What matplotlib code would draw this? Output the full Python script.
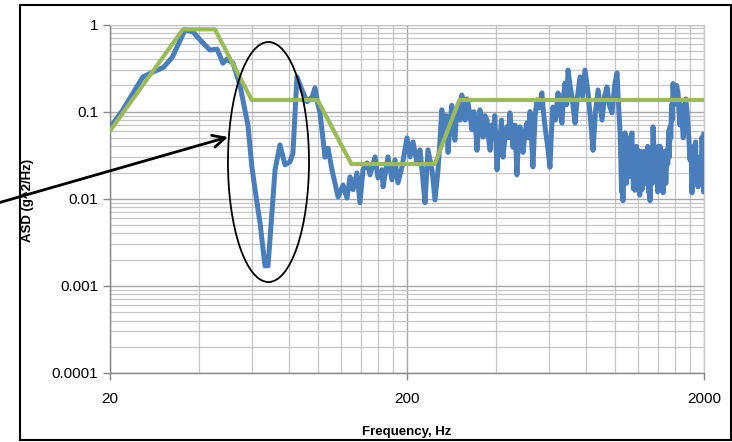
import matplotlib
matplotlib.use("Agg")
import matplotlib.pyplot as plt
from matplotlib.patches import Ellipse, Rectangle
from matplotlib.ticker import FixedLocator, NullFormatter

# Measured response (blue) - rows of 10 values each, frequencies and ASD matched row by row
meas_freq = [
    20, 22.1, 25.8, 27.9, 30.2, 32.4, 35.8, 38.1, 40.8, 43.4,
    45.9, 48.0, 49.5, 51.9, 54.8, 58.3, 60.1, 62.5, 64.0, 66.5,
    68.1, 70.2, 71.9, 74.7, 77.7, 80.7, 82.6, 85.2, 88.6, 92.1,
    95.8, 98.0, 100.3, 101.9, 105.9, 108.4, 111.8, 117.2, 121.8, 125.6,
    128.6, 131.6, 135.7, 138.9, 142.2, 146.7, 150.2, 156.1, 159.7, 164.8,
    166.1, 172.6, 178.0, 182.2, 186.5, 192.4, 200, 204.7, 209.5, 216.1,
    221.2, 224.7, 230, 235.3, 242.8, 248.5, 254.4, 258, 262, 265,
    268, 271, 275, 279, 283, 287, 290, 294, 298, 302,
    306, 310, 314, 318, 321, 326, 331, 336, 340, 344,
    348, 352, 356, 361, 366, 372, 376, 381, 385, 390,
    395, 402, 406, 411, 416, 421, 427, 434, 439, 444,
    450, 455, 462, 469, 475, 480, 486, 492, 500, 507,
    513, 519, 525, 531, 540, 548, 558, 569, 576, 583,
    595, 606, 613, 620, 632, 645, 655, 665, 673, 681,
    689, 697, 708, 719, 728, 736, 750, 765, 780, 795,
    805, 814, 830, 846, 862, 880, 893, 907, 925, 943,
    960, 980, 1000, 1019, 1031, 1043, 1049, 1055, 1061, 1067,
    1075, 1084, 1090, 1097, 1103, 1109, 1117, 1125, 1134, 1144,
    1150, 1157, 1164, 1171, 1178, 1185, 1192, 1199, 1207, 1215,
    1226, 1237, 1248, 1260, 1272, 1285, 1293, 1300, 1308, 1316,
    1324, 1331, 1339, 1347, 1356, 1365, 1377, 1389, 1397, 1405,
    1414, 1422, 1431, 1440, 1448, 1456, 1465, 1475, 1488, 1501,
    1510, 1520, 1528, 1537, 1546, 1555, 1564, 1573, 1587, 1600,
    1618, 1635, 1648, 1660, 1673, 1687, 1703, 1720, 1736, 1753,
    1773, 1794, 1808, 1822, 1831, 1840, 1852, 1865, 1875, 1885,
    1897, 1909, 1925, 1940, 1955, 1969, 1976, 1984, 1992, 2000]
meas_asd = [
    0.065, 0.105, 0.25, 0.285, 0.32, 0.42, 0.87, 0.82, 0.63, 0.51,
    0.52, 0.36, 0.40, 0.36, 0.20, 0.069, 0.023, 0.0090, 0.0053, 0.0017,
    0.0017, 0.0070, 0.0215, 0.0415, 0.0245, 0.0265, 0.033, 0.25, 0.177, 0.13,
    0.147, 0.187, 0.12, 0.097, 0.030, 0.038, 0.0215, 0.0105, 0.0144, 0.0102,
    0.0178, 0.0127, 0.0198, 0.0090, 0.0215, 0.0258, 0.0188, 0.0302, 0.0174, 0.0215,
    0.0137, 0.0302, 0.0165, 0.0279, 0.0152, 0.0232, 0.050, 0.0302, 0.0449, 0.0258,
    0.0364, 0.0215, 0.0090, 0.0364, 0.0215, 0.0097, 0.0215, 0.044, 0.105, 0.06,
    0.05, 0.09, 0.034, 0.07, 0.118, 0.06, 0.047, 0.10, 0.12, 0.08,
    0.155, 0.10, 0.08, 0.14, 0.126, 0.09, 0.062, 0.10, 0.07, 0.036,
    0.06, 0.105, 0.08, 0.051, 0.09, 0.08, 0.05, 0.036, 0.07, 0.051,
    0.09, 0.0215, 0.05, 0.047, 0.08, 0.030, 0.05, 0.067, 0.05, 0.097,
    0.06, 0.039, 0.07, 0.0188, 0.05, 0.067, 0.05, 0.034, 0.06, 0.074,
    0.05, 0.10, 0.05, 0.0232, 0.09, 0.136, 0.11, 0.164, 0.10, 0.067,
    0.04, 0.023, 0.06, 0.113, 0.08, 0.164, 0.10, 0.074, 0.15, 0.213,
    0.12, 0.30, 0.20, 0.147, 0.10, 0.074, 0.15, 0.25, 0.15, 0.30,
    0.22, 0.164, 0.08, 0.036, 0.10, 0.177, 0.12, 0.080, 0.15, 0.192,
    0.12, 0.097, 0.20, 0.278, 0.12, 0.06, 0.03, 0.012, 0.02, 0.0095,
    0.03, 0.057, 0.025, 0.015, 0.04, 0.05, 0.018, 0.02, 0.04, 0.057,
    0.025, 0.013, 0.03, 0.0125, 0.018, 0.04, 0.025, 0.036, 0.03, 0.011,
    0.035, 0.0127, 0.02, 0.035, 0.015, 0.03, 0.04, 0.012, 0.02, 0.0095,
    0.025, 0.03, 0.015, 0.067, 0.04, 0.02, 0.035, 0.0178, 0.012, 0.04,
    0.025, 0.04, 0.03, 0.013, 0.025, 0.0117, 0.02, 0.035, 0.015, 0.036,
    0.025, 0.06, 0.03, 0.067, 0.05, 0.12, 0.08, 0.21, 0.12, 0.15,
    0.20, 0.164, 0.10, 0.07, 0.12, 0.08, 0.05, 0.10, 0.14, 0.10,
    0.06, 0.028, 0.04, 0.0117, 0.02, 0.03, 0.015, 0.04, 0.045, 0.015,
    0.03, 0.0137, 0.02, 0.03, 0.015, 0.051, 0.04, 0.02, 0.012, 0.055]

# Specification profile (green)
spec_freq = [20, 35.2, 45.1, 60, 100, 130, 248, 300, 2000]
spec_asd = [0.06, 0.88, 0.88, 0.136, 0.136, 0.025, 0.025, 0.136, 0.136]

x_ticks = [20, 200, 2000]
x_tick_labels = ["20", "200", "2000"]
y_ticks = [0.0001, 0.001, 0.01, 0.1, 1]
y_tick_labels = ["0.0001", "0.001", "0.01", "0.1", "1"]

plt.rcParams['font.family'] = ['Liberation Sans', 'DejaVu Sans']

W, H = 732, 442
fig = plt.figure(figsize=(W / 100, H / 100), dpi=100)
ax = fig.add_axes([110 / W, 1 - 373 / H, 594 / W, 348.5 / H])

ax.set_xscale('log')
ax.set_yscale('log')
ax.set_xlim(20, 2000)
ax.set_ylim(0.0001, 1)

ax.plot(meas_freq, meas_asd, color='#4A7EBB', lw=3.6, solid_joinstyle='round', zorder=3)
ax.plot(spec_freq, spec_asd, color='#9BBB59', lw=3.0, solid_joinstyle='round', zorder=4)

ax.xaxis.set_major_locator(FixedLocator(x_ticks))
ax.set_xticklabels(x_tick_labels)
minor_x = [20 * k for k in range(2, 10)] + [200 * k for k in range(2, 10)]
ax.xaxis.set_minor_locator(FixedLocator(minor_x))
ax.xaxis.set_minor_formatter(NullFormatter())

ax.yaxis.set_major_locator(FixedLocator(y_ticks))
ax.set_yticklabels(y_tick_labels)
minor_y = [m * 10.0 ** e for e in range(-4, 0) for m in range(2, 10)]
ax.yaxis.set_minor_locator(FixedLocator(minor_y))
ax.yaxis.set_minor_formatter(NullFormatter())

ax.grid(which='major', color='#A6A6A6', lw=1.0, zorder=0)
ax.grid(which='minor', color='#C6C6C6', lw=0.9, zorder=0)
ax.set_axisbelow(True)

ax.tick_params(which='major', length=5, width=1, color='#868686', labelsize=11,
               labelcolor='black', direction='out')
ax.tick_params(axis='x', which='major', pad=9)
ax.tick_params(which='minor', length=0)
for s in ['top', 'right']:
    ax.spines[s].set_color('#C6C6C6')
for s in ['left', 'bottom']:
    ax.spines[s].set_color('#868686')
    ax.spines[s].set_linewidth(1.0)

fig.text(28 / W, 1 - 200 / H, "ASD (g^2/Hz)", rotation=90, ha='center', va='center',
         fontsize=9.5, fontweight='bold')
fig.text(407 / W, 1 - 432 / H, "Frequency, Hz", ha='center', va='center',
         fontsize=9.5, fontweight='bold')

# Annotation ellipse
ell = Ellipse((0.2668, 0.6054), 0.1364, 0.6887, transform=ax.transAxes, fill=False,
              edgecolor='black', lw=1.3, zorder=6, clip_on=False)
ax.add_patch(ell)

# Annotation arrow
fig.add_artist(plt.Annotation("", xy=(228 / W, 1 - 137 / H), xytext=(-2 / W, 1 - 203 / H),
                              xycoords='figure fraction', textcoords='figure fraction',
                              arrowprops=dict(arrowstyle='->', color='black', lw=2.0,
                                              mutation_scale=22, shrinkA=0, shrinkB=0)))

# Chart frame
fig.add_artist(Rectangle((20 / W, 1 - 440 / H), 711 / W, 435 / H, transform=fig.transFigure,
                         fill=False, edgecolor='black', lw=1.5))

fig.savefig("out.png", dpi=100)
